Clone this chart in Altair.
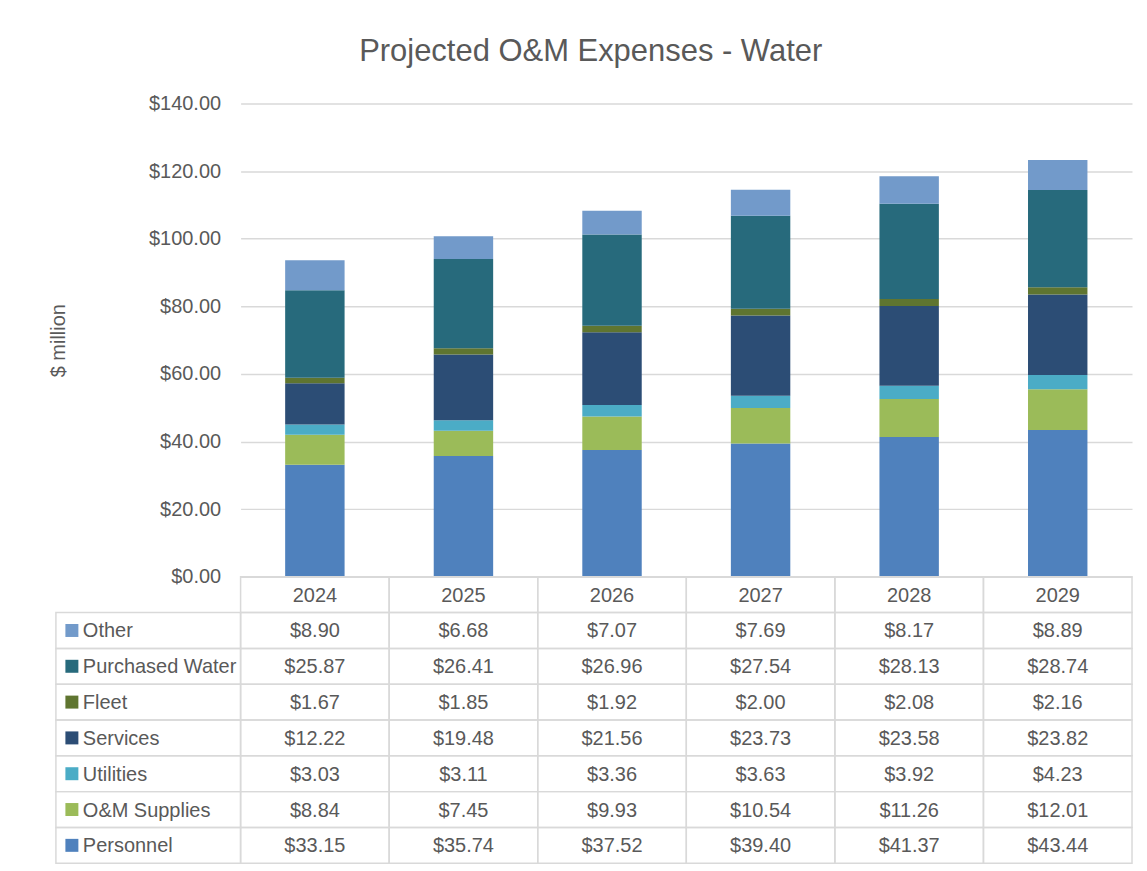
import altair as alt
import pandas as pd

# ---- data ----
years = ["2024", "2025", "2026", "2027", "2028", "2029"]
series = ["Personnel", "O&M Supplies", "Utilities", "Services", "Fleet", "Purchased Water", "Other"]
personnel = [33.15, 35.74, 37.52, 39.40, 41.37, 43.44]
om_supplies = [8.84, 7.45, 9.93, 10.54, 11.26, 12.01]
utilities = [3.03, 3.11, 3.36, 3.63, 3.92, 4.23]
services = [12.22, 19.48, 21.56, 23.73, 23.58, 23.82]
fleet = [1.67, 1.85, 1.92, 2.00, 2.08, 2.16]
purchased_water = [25.87, 26.41, 26.96, 27.54, 28.13, 28.74]
other = [8.90, 6.68, 7.07, 7.69, 8.17, 8.89]
colors = ["#4F81BD", "#9BBB59", "#4BACC6", "#2C4D75", "#5F7530", "#276A7C", "#729ACA"]

values = [personnel, om_supplies, utilities, services, fleet, purchased_water, other]

FONT = "Liberation Sans, Arial, sans-serif"
TXT = "#595959"
GRID = "#D9D9D9"

rows = []
for i, (s, vals) in enumerate(zip(series, values)):
    for y, v in zip(years, vals):
        rows.append({"year": y, "series": s, "value": v, "idx": i})
df = pd.DataFrame(rows)

table_rows = ["header"] + series[::-1]
cells = pd.DataFrame([{"year": y, "row": r} for y in years for r in table_rows])
headers = pd.DataFrame({"year": years, "row": ["header"] * len(years)})
labels = pd.DataFrame({"series": series})

color_scale = alt.Scale(domain=series, range=colors)

# ---- top: stacked bars ----
bars = alt.Chart(df).mark_bar().encode(
    x=alt.X("year:O", scale=alt.Scale(domain=years, paddingInner=0.6, paddingOuter=0.3), axis=None),
    y=alt.Y(
        "value:Q",
        stack="zero",
        scale=alt.Scale(domain=[0, 140], nice=False),
        axis=alt.Axis(
            values=[0, 20, 40, 60, 80, 100, 120, 140],
            format="$,.2f",
            title="$ million",
            titleFont=FONT,
            titleFontSize=20,
            titleFontWeight="normal",
            titleColor=TXT,
            titlePadding=80,
            labelFont=FONT,
            labelFontSize=20,
            labelColor=TXT,
            labelPadding=20,
            domain=False,
            ticks=False,
            grid=True,
            gridColor=GRID,
            gridWidth=1.5,
        ),
    ),
    color=alt.Color("series:N", scale=color_scale, legend=None),
    order=alt.Order("idx:Q"),
).properties(width=893, height=474)

# ---- bottom: data table ----
xs = alt.X("year:O", scale=alt.Scale(domain=years, paddingInner=0, paddingOuter=0), axis=None)
ys_domain = alt.Scale(domain=table_rows, paddingInner=0, paddingOuter=0)

grid_cells = alt.Chart(cells).mark_rect(fill="white", fillOpacity=0, stroke=GRID, strokeWidth=1.5).encode(
    x=xs,
    y=alt.Y("row:N", scale=ys_domain, axis=None),
)

value_text = alt.Chart(df).mark_text(font=FONT, fontSize=20, color=TXT, baseline="middle", dy=1).encode(
    x=xs,
    y=alt.Y("series:N", scale=ys_domain, axis=None),
    text=alt.Text("value:Q", format="$,.2f"),
)

header_text = alt.Chart(headers).mark_text(font=FONT, fontSize=20, color=TXT, baseline="middle", dy=1).encode(
    x=xs,
    y=alt.Y("row:N", scale=ys_domain, axis=None),
    text="year:N",
)

label_cells = alt.Chart(labels).mark_rect(fill="white", fillOpacity=0, stroke=GRID, strokeWidth=1.5).encode(
    x=alt.value(-185),
    x2=alt.value(0),
    y=alt.Y("series:N", scale=ys_domain, axis=None),
)

swatches = alt.Chart(labels).mark_square(size=169, opacity=1, filled=True).encode(
    x=alt.value(-169),
    y=alt.Y("series:N", scale=ys_domain, axis=None),
    color=alt.Color("series:N", scale=color_scale, legend=None),
)

label_text = alt.Chart(labels).mark_text(font=FONT, fontSize=20, color=TXT, align="left", baseline="middle", dy=1).encode(
    x=alt.value(-158),
    y=alt.Y("series:N", scale=ys_domain, axis=None),
    text="series:N",
)

table = alt.layer(grid_cells, label_cells, swatches, value_text, header_text, label_text).properties(
    width=893, height=287
)

chart = alt.vconcat(bars, table, spacing=0, bounds="flush").properties(
    title=alt.TitleParams(
        "Projected O&M Expenses - Water",
        font=FONT,
        fontSize=31,
        fontWeight="normal",
        color=TXT,
        anchor="middle",
        offset=26,
    ),
    padding={"left": 40, "top": 27, "right": 6, "bottom": 4},
).configure_view(stroke=None)

chart.save("out.html", embed_options={"renderer": "svg", "actions": False})
